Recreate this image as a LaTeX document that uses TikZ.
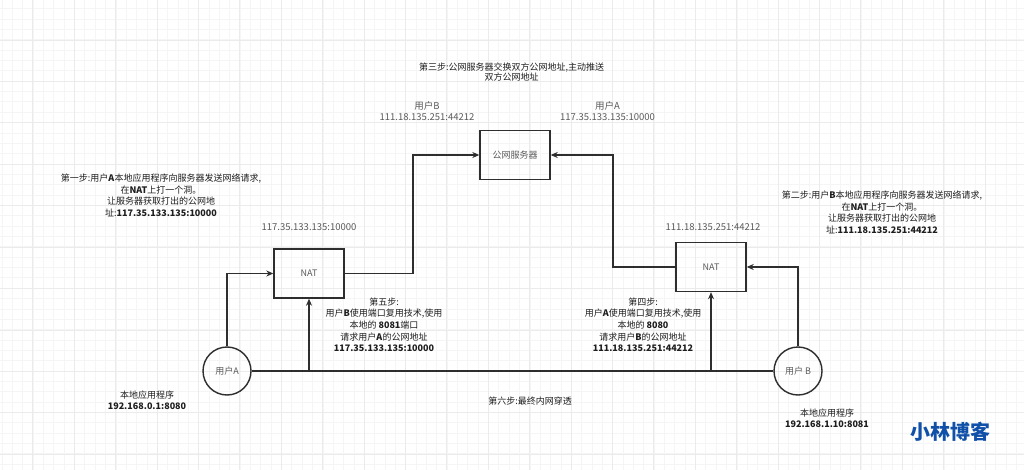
\documentclass[tikz,border=0pt]{standalone}
\usepackage{fontspec}
\setmainfont{Noto Sans CJK SC}
\usepackage{xcolor}
\usetikzlibrary{arrows.meta}

\definecolor{linegray}{HTML}{2E2E2E}
\definecolor{labelgray}{HTML}{5A5A5A}
\definecolor{stepblack}{HTML}{1E1E1E}
\definecolor{markblue}{HTML}{1150A8}

\tikzset{
  box/.style={draw=linegray, line width=1.4pt, minimum width=70pt, minimum height=49pt,
    text=labelgray, font=\fontsize{9}{11}\selectfont},
  user/.style={circle, draw=linegray, line width=1.4pt, minimum size=48pt, inner sep=0pt,
    text=labelgray, font=\fontsize{9}{11}\selectfont},
  wire/.style={draw=linegray, line width=1.4pt},
  arr/.style={wire, -{Stealth[length=7pt,width=6pt]}},
  steptext/.style={align=center, text=stepblack, font=\fontsize{9}{11.6}\selectfont},
  addrtext/.style={align=center, text=labelgray, font=\fontsize{9.5}{11.3}\selectfont},
  gridminor/.style={draw=black!4, line width=0.6pt},
  gridmajor/.style={draw=black!8, line width=0.6pt}
}

\begin{document}
\begin{tikzpicture}[x=1pt, y=-1pt]
        % Background
        \useasboundingbox[fill=white] (0,0) rectangle (1024,470);
        \foreach \i in {0,...,98}
          \draw[gridminor] ({1.95+10.35*\i},0) -- ++(0,470);
        \foreach \j in {0,...,45}
          \draw[gridminor] (0,{8.65+10.35*\j}) -- ++(1024,0);
        \foreach \i in {0,...,24}
          \draw[gridmajor] ({32.6+41.4*\i},0) -- ++(0,470);
        \foreach \j in {1,...,11}
          \draw[gridmajor] (0,{-1.4+41.4*\j}) -- ++(1024,0);

        % Boxes
        \node[box] (server) at (515,155) {公网服务器};
        \node[box] (natA) at (309,273.5) {NAT};
        \node[box] (natB) at (711,267) {NAT};
        \node[user] (userA) at (227,371) {用户A};
        \node[user] (userB) at (798,371) {用户 B};
        \coordinate (bendA) at (413,0);
        \coordinate (bendB) at (613,0);

        % Connectors
        \draw[arr] (userA) |- (natA);
        \draw[arr] (natA.east) -- (natA.east -| bendA) |- (server.west);
        \draw[arr] (userB) |- (natB);
        \draw[arr] (natB.west) -- (natB.west -| bendB) |- (server.east);
        \draw[wire] (userA) -- (userB);
        \draw[arr] (natA.south |- userA) -- (natA.south);
        \draw[arr] (natB.south |- userA) -- (natB.south);

        % Text
        \node[steptext, font=\fontsize{9}{10.5}\selectfont] (step3) at (511.5,72)
          {第三步:公网服务器交换双方公网地址,主动推送\\双方公网地址};
        \node[addrtext] (pubB) at (427,111) {用户B\\111.18.135.251:44212};
        \node[addrtext] (pubA) at (607.5,111) {用户A\\117.35.133.135:10000};
        \node[steptext] (step1) at (161,195.5) {
            第一步:用户\textbf{A}本地应用程序向服务器发送网络请求,\\
            在\textbf{NAT}上打一个洞。\\
            让服务器获取打出的公网地\\
            址:\textbf{117.35.133.135:10000}
          };
        \node[addrtext] (ipA) at (309,227) {117.35.133.135:10000};
        \node[addrtext] (ipB) at (713,227) {111.18.135.251:44212};
        \node[steptext] (step2) at (882,212.3) {
            第二步:用户\textbf{B}本地应用程序向服务器发送网络请求,\\
            在\textbf{NAT}上打一个洞。\\
            让服务器获取打出的公网地\\
            址:\textbf{111.18.135.251:44212}
          };
        \node[steptext] (step5) at (384,324.7) {
            第五步:\\
            用户\textbf{B}使用端口复用技术,使用\\
            本地的 \textbf{8081}端口\\
            请求用户\textbf{A}的公网地址\\
            \textbf{117.35.133.135:10000}
          };
        \node[steptext] (step4) at (643,324.7) {
            第四步:\\
            用户\textbf{A}使用端口复用技术,使用\\
            本地的 \textbf{8080}\\
            请求用户\textbf{B}的公网地址\\
            \textbf{111.18.135.251:44212}
          };
        \node[steptext] (step6) at (530,401) {第六步:最终内网穿透};
        \node[steptext] (localA) at (147,400.4) {本地应用程序\\\textbf{192.168.0.1:8080}};
        \node[steptext] (localB) at (827,418.4) {本地应用程序\\\textbf{192.168.1.10:8081}};
        \node[text=markblue, font=\bfseries\fontsize{20}{22}\selectfont] (mark) at (950,431.5) {小林博客};
      \end{tikzpicture}
\end{document}
